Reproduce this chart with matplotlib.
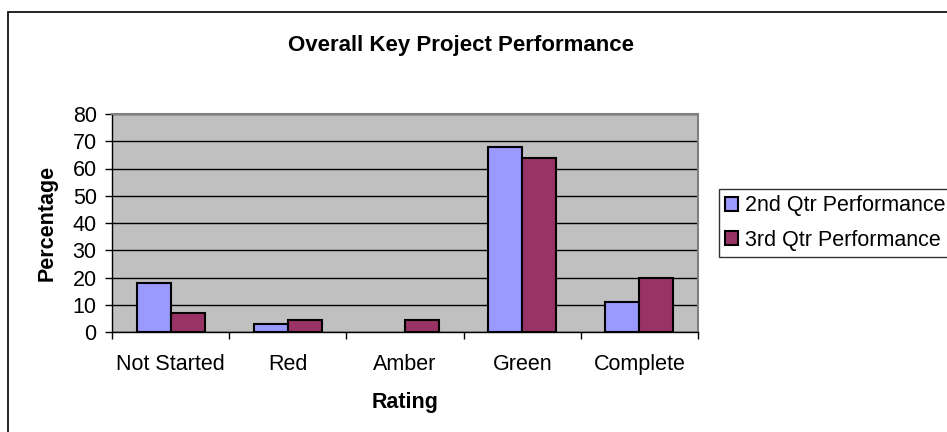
import matplotlib.pyplot as plt
from matplotlib.patches import Rectangle
import numpy as np

plt.rcParams['font.family'] = ['Liberation Sans', 'DejaVu Sans']

# data
ratings = ['Not Started', 'Red', 'Amber', 'Green', 'Complete']
q2_perf = [18, 3, 0, 68, 11]
q3_perf = [7, 4.3, 4.3, 64, 20]
series_names = ['2nd Qtr Performance', '3rd Qtr Performance']

W, H = 947, 432
fs = 15.5
fig = plt.figure(figsize=(W / 100, H / 100), dpi=100)

# outer chart border (runs off the right and bottom of the picture)
fig.patches.append(Rectangle((8 / W, -0.05), 1.2, 1 - 12 / H + 0.05,
                             transform=fig.transFigure, fill=False,
                             edgecolor='black', linewidth=1.2))

ax = fig.add_axes([112 / W, 1 - 332 / H, (698 - 112) / W, (332 - 114) / H])
ax.set_facecolor('#C0C0C0')

x = np.arange(len(ratings))
bw = 0.29
# no outline on empty bars
lw2 = [1.5 if v > 0 else 0 for v in q2_perf]
lw3 = [1.5 if v > 0 else 0 for v in q3_perf]
ax.bar(x - bw / 2, q2_perf, bw, color='#9999FF', edgecolor='black', linewidth=lw2,
       label=series_names[0], zorder=3)
ax.bar(x + bw / 2, q3_perf, bw, color='#993366', edgecolor='black', linewidth=lw3,
       label=series_names[1], zorder=3)

ax.set_xlim(-0.5, len(ratings) - 0.5)
ax.set_ylim(0, 80)
ax.set_yticks(range(0, 81, 10))
ax.yaxis.grid(True, color='black', linewidth=1)
ax.set_axisbelow(True)

# ticks at category boundaries, labels centred
ax.set_xticks(np.arange(-0.5, len(ratings), 1))
ax.set_xticklabels([])
ax.set_xticks(x, minor=True)
ax.set_xticklabels(ratings, minor=True, fontsize=fs)
ax.tick_params(axis='x', which='major', direction='out', length=5, width=1)
ax.tick_params(axis='x', which='minor', length=0, pad=16)
ax.tick_params(axis='y', direction='out', length=5, width=1, labelsize=fs, pad=6)

for s in ['top', 'right']:
    ax.spines[s].set_color('#808080')
    ax.spines[s].set_linewidth(1.5)
for s in ['left', 'bottom']:
    ax.spines[s].set_color('black')
    ax.spines[s].set_linewidth(1)

ax.set_xlabel('Rating', fontsize=fs, fontweight='bold', labelpad=12)
ax.set_ylabel('Percentage', fontsize=fs, fontweight='bold', labelpad=11)

fig.text(461 / W, 1 - 45 / H, 'Overall Key Project Performance',
         ha='center', va='center', fontsize=16, fontweight='bold')

leg = fig.legend(loc='upper left', bbox_to_anchor=(719 / W, 1 - 257 / H, 0.3, 68 / H),
                 mode='expand', fontsize=fs, frameon=True, fancybox=False,
                 borderaxespad=0, handlelength=0.6, handleheight=0.6,
                 handletextpad=0.3, borderpad=0.3, labelspacing=0.62)
leg.get_frame().set_edgecolor('black')
leg.get_frame().set_linewidth(1)

fig.savefig('out.png', dpi=100)
